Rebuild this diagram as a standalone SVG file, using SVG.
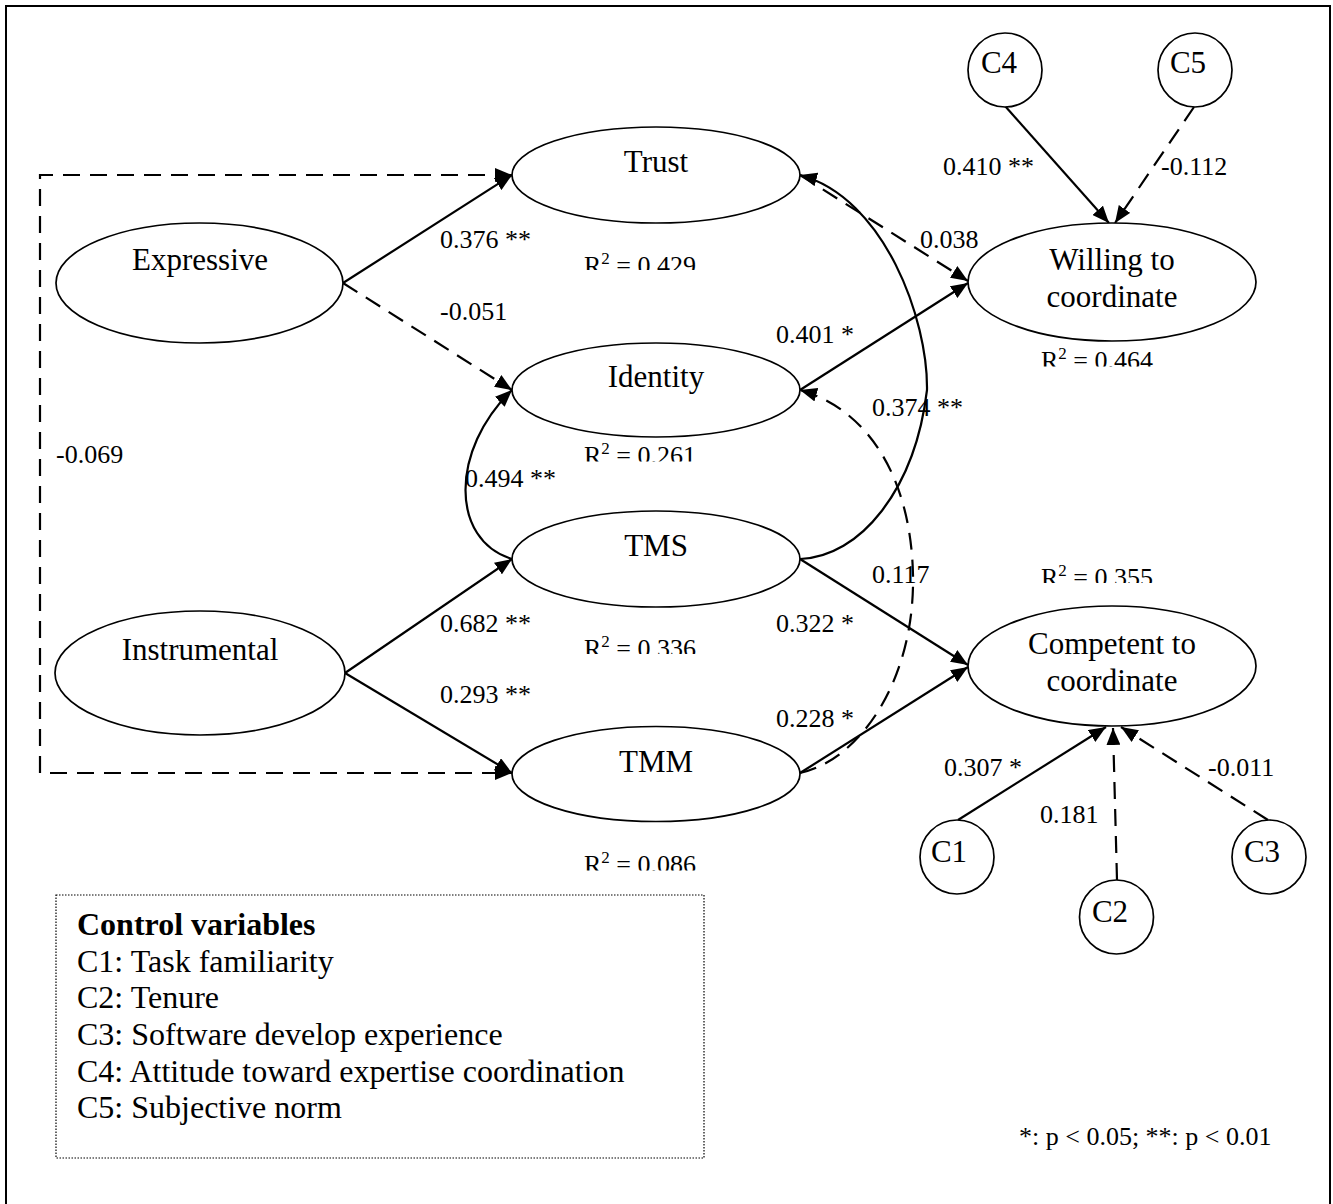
<svg xmlns="http://www.w3.org/2000/svg" width="1333" height="1204" viewBox="0 0 1333 1204">
  <style>
    text { font-family: "Liberation Serif", "Times New Roman", serif; fill: #000; }
    .node { font-size: 31px; text-anchor: middle; }
    .coef { font-size: 26px; }
    .legend { font-size: 32px; }
    .sup { font-size: 17px; }
    ellipse, circle { fill: #fff; stroke: #000; stroke-width: 1.7; }
    .edge { fill: none; stroke: #000; stroke-width: 2.2; }
    .dash { stroke-dasharray: 17 10; }
    .arrow { marker-end: url(#head); }
  </style>
  <defs>
    <marker id="head" markerUnits="userSpaceOnUse" markerWidth="18" markerHeight="14" refX="17" refY="7" orient="auto-start-reverse">
      <path d="M0,0 L17,7 L0,14 Z" fill="#000" stroke="none"/>
    </marker>
    <!-- R-squared captions are cut at the bottom of their text boxes -->
    <clipPath id="clipR1"><rect x="570" y="240" width="160" height="30"/></clipPath>
    <clipPath id="clipR2"><rect x="570" y="430" width="160" height="31.5"/></clipPath>
    <clipPath id="clipR3"><rect x="570" y="620" width="160" height="34"/></clipPath>
    <clipPath id="clipR4"><rect x="570" y="835" width="160" height="35.5"/></clipPath>
    <clipPath id="clipR5"><rect x="1030" y="330" width="160" height="36.5"/></clipPath>
    <clipPath id="clipR6"><rect x="1030" y="550" width="160" height="33"/></clipPath>
  </defs>

  <!-- outer frame -->
  <rect x="6" y="6" width="1324" height="1215" fill="#fff" stroke="#000" stroke-width="2"/>

  <!-- connectors -->
  <g id="connectors">
    <!-- correlation between Trust and TMM routed round the left side -->
    <path class="edge dash" d="M512,175 L40,175 L40,773 L512,773" marker-start="url(#head)" marker-end="url(#head)"/>
    <line class="edge arrow" x1="343" y1="283" x2="512" y2="175"/>
    <line class="edge dash arrow" x1="343" y1="283" x2="512" y2="390"/>
    <line class="edge arrow" x1="345" y1="673" x2="512" y2="559"/>
    <line class="edge arrow" x1="345" y1="673" x2="512" y2="773"/>
    <!-- TMS to Identity -->
    <path class="edge arrow" d="M512,559 C450,540 450,450 512,390"/>
    <!-- TMS to Trust -->
    <path class="edge arrow" d="M800,559 C860,557 915,490 927,390 C928,320 885,198 800,175"/>
    <!-- TMM to Identity -->
    <path class="edge dash arrow" d="M800,773 C860,760 915,680 913,575 C911,480 870,410 800,390"/>
    <line class="edge dash arrow" x1="800" y1="175" x2="968" y2="281"/>
    <line class="edge arrow" x1="800" y1="390" x2="968" y2="283"/>
    <line class="edge arrow" x1="800" y1="559" x2="968" y2="665"/>
    <line class="edge arrow" x1="800" y1="773" x2="968" y2="667"/>
    <line class="edge arrow" x1="1005" y1="106" x2="1109" y2="223"/>
    <line class="edge dash arrow" x1="1194" y1="107" x2="1115" y2="223"/>
    <line class="edge arrow" x1="958" y1="820" x2="1106" y2="727"/>
    <line class="edge dash arrow" x1="1117" y1="880" x2="1113" y2="728"/>
    <line class="edge dash arrow" x1="1268" y1="820" x2="1121" y2="727"/>
  </g>

  <!-- nodes -->
  <g id="expressive">
    <ellipse cx="199.5" cy="283" rx="143.5" ry="60"/>
    <text class="node" x="200" y="270">Expressive</text>
  </g>
  <g id="instrumental">
    <ellipse cx="200" cy="673" rx="145" ry="62"/>
    <text class="node" x="200" y="660">Instrumental</text>
  </g>
  <g id="trust">
    <ellipse cx="656" cy="175" rx="144" ry="48"/>
    <text class="node" x="656" y="172">Trust</text>
  </g>
  <g id="identity">
    <ellipse cx="656" cy="390" rx="144" ry="47"/>
    <text class="node" x="656" y="387">Identity</text>
  </g>
  <g id="tms">
    <ellipse cx="656" cy="559" rx="144" ry="48"/>
    <text class="node" x="656" y="556">TMS</text>
  </g>
  <g id="tmm">
    <ellipse cx="656" cy="774" rx="144" ry="47.5"/>
    <text class="node" x="656" y="772">TMM</text>
  </g>
  <g id="willing">
    <ellipse cx="1112" cy="282" rx="144" ry="59"/>
    <text class="node" x="1112" y="270">Willing to</text>
    <text class="node" x="1112" y="307">coordinate</text>
  </g>
  <g id="competent">
    <ellipse cx="1112" cy="666" rx="144" ry="60"/>
    <text class="node" x="1112" y="654">Competent to</text>
    <text class="node" x="1112" y="691">coordinate</text>
  </g>
  <g id="c4">
    <circle cx="1005" cy="70" r="37"/>
    <text class="node" x="999" y="73">C4</text>
  </g>
  <g id="c5">
    <circle cx="1195" cy="70" r="37"/>
    <text class="node" x="1188" y="73">C5</text>
  </g>
  <g id="c1">
    <circle cx="957" cy="857" r="37"/>
    <text class="node" x="949" y="862">C1</text>
  </g>
  <g id="c2">
    <circle cx="1116.5" cy="917" r="37"/>
    <text class="node" x="1110" y="922">C2</text>
  </g>
  <g id="c3">
    <circle cx="1269" cy="857" r="37"/>
    <text class="node" x="1262" y="862">C3</text>
  </g>

  <!-- path coefficients -->
  <g id="coefficients" class="coef">
    <text class="coef" x="440" y="248">0.376 **</text>
    <text class="coef" x="440" y="320">-0.051</text>
    <text class="coef" x="56" y="463">-0.069</text>
    <text class="coef" x="776" y="343">0.401 *</text>
    <text class="coef" x="465" y="487">0.494 **</text>
    <text class="coef" x="440" y="632">0.682 **</text>
    <text class="coef" x="440" y="703">0.293 **</text>
    <text class="coef" x="776" y="632">0.322 *</text>
    <text class="coef" x="776" y="727">0.228 *</text>
    <text class="coef" x="872" y="583">0.117</text>
    <text class="coef" x="872" y="416">0.374 **</text>
    <text class="coef" x="920" y="248">0.038</text>
    <text class="coef" x="943" y="175">0.410 **</text>
    <text class="coef" x="1161" y="175">-0.112</text>
    <text class="coef" x="944" y="776">0.307 *</text>
    <text class="coef" x="1040" y="823">0.181</text>
    <text class="coef" x="1208" y="776">-0.011</text>
  </g>

  <!-- explained variance -->
  <g id="r-squared">
    <text class="coef" x="584" y="274" clip-path="url(#clipR1)">R<tspan class="sup" dy="-10">2</tspan><tspan dy="10"> = 0.429</tspan></text>
    <text class="coef" x="584" y="464" clip-path="url(#clipR2)">R<tspan class="sup" dy="-10">2</tspan><tspan dy="10"> = 0.261</tspan></text>
    <text class="coef" x="584" y="657" clip-path="url(#clipR3)">R<tspan class="sup" dy="-10">2</tspan><tspan dy="10"> = 0.336</tspan></text>
    <text class="coef" x="584" y="873" clip-path="url(#clipR4)">R<tspan class="sup" dy="-10">2</tspan><tspan dy="10"> = 0.086</tspan></text>
    <text class="coef" x="1041" y="369" clip-path="url(#clipR5)">R<tspan class="sup" dy="-10">2</tspan><tspan dy="10"> = 0.464</tspan></text>
    <text class="coef" x="1041" y="585.5" clip-path="url(#clipR6)">R<tspan class="sup" dy="-10">2</tspan><tspan dy="10"> = 0.355</tspan></text>
  </g>

  <!-- legend of control variables -->
  <g id="legend">
    <rect x="56" y="895" width="648" height="263" fill="none" stroke="#000" stroke-width="1.2" stroke-dasharray="1.5 1.5"/>
    <text class="legend" x="77" y="935" font-weight="bold">Control variables</text>
    <text class="legend" x="77" y="972">C1: Task familiarity</text>
    <text class="legend" x="77" y="1008">C2: Tenure</text>
    <text class="legend" x="77" y="1045">C3: Software develop experience</text>
    <text class="legend" x="77" y="1082">C4: Attitude toward expertise coordination</text>
    <text class="legend" x="77" y="1118">C5: Subjective norm</text>
  </g>

  <text class="coef" x="1019" y="1145">*: p &lt; 0.05; **: p &lt; 0.01</text>
</svg>
